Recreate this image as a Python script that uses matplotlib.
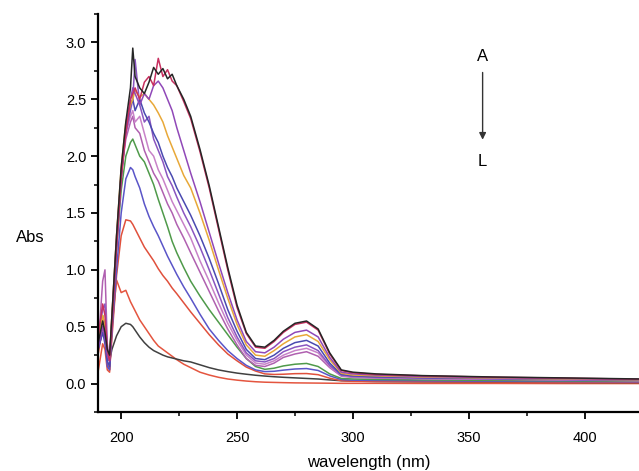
import matplotlib

matplotlib.use("Agg")
import matplotlib.pyplot as plt
from matplotlib.ticker import FormatStrFormatter, MultipleLocator

# wavelength grid (nm) shared by every spectrum
wavelength = [190, 192, 193, 194, 195, 196, 198, 200, 202, 204, 205, 206, 208, 210,
              212, 214, 216, 218, 220, 222, 224, 227, 230, 234, 238, 242, 246, 250,
              254, 258, 262, 266, 270, 275, 280, 285, 290, 295, 300, 310, 330, 360,
              390, 425]

abs_a = [0.35, 0.55, 0.45, 0.30, 0.25, 0.60, 1.30, 1.90, 2.30, 2.60, 2.95, 2.70, 2.60, 2.55,
         2.65, 2.78, 2.72, 2.77, 2.68, 2.72, 2.62, 2.50, 2.35, 2.06, 1.74, 1.38, 1.02, 0.69,
         0.45, 0.33, 0.32, 0.38, 0.46, 0.53, 0.55, 0.48, 0.27, 0.12, 0.10, 0.085, 0.07, 0.058,
         0.05, 0.04]
abs_b = [0.40, 0.70, 0.60, 0.30, 0.20, 0.50, 1.20, 1.80, 2.20, 2.50, 2.55, 2.60, 2.50, 2.65,
         2.70, 2.62, 2.86, 2.70, 2.76, 2.66, 2.62, 2.48, 2.33, 2.04, 1.72, 1.36, 1.00, 0.67,
         0.44, 0.32, 0.31, 0.37, 0.45, 0.52, 0.54, 0.47, 0.26, 0.115, 0.095, 0.08, 0.068, 0.056,
         0.048, 0.038]
abs_c = [0.30, 0.50, 0.40, 0.25, 0.20, 0.55, 1.25, 1.85, 2.25, 2.50, 2.60, 2.55, 2.45, 2.55,
         2.50, 2.62, 2.66, 2.60, 2.50, 2.40, 2.25, 2.05, 1.85, 1.60, 1.33, 1.06, 0.80, 0.56,
         0.37, 0.28, 0.27, 0.32, 0.39, 0.45, 0.47, 0.41, 0.23, 0.10, 0.085, 0.075, 0.062, 0.052,
         0.044, 0.035]
abs_d = [0.35, 0.60, 0.50, 0.28, 0.22, 0.60, 1.30, 1.90, 2.30, 2.45, 2.50, 2.58, 2.52, 2.55,
         2.50, 2.45, 2.38, 2.30, 2.18, 2.08, 1.98, 1.83, 1.72, 1.50, 1.26, 1.00, 0.75, 0.52,
         0.34, 0.25, 0.24, 0.29, 0.35, 0.41, 0.43, 0.37, 0.21, 0.09, 0.075, 0.068, 0.057, 0.048,
         0.04, 0.032]
abs_e = [0.30, 0.45, 0.35, 0.20, 0.15, 0.50, 1.20, 1.80, 2.25, 2.45, 2.50, 2.40, 2.50, 2.38,
         2.30, 2.20, 2.12, 2.00, 1.90, 1.82, 1.72, 1.60, 1.48, 1.30, 1.10, 0.88, 0.65, 0.46,
         0.30, 0.22, 0.21, 0.25, 0.31, 0.36, 0.38, 0.33, 0.18, 0.08, 0.068, 0.06, 0.052, 0.045,
         0.038, 0.03]
abs_f = [0.40, 0.65, 0.70, 0.30, 0.20, 0.55, 1.25, 1.85, 2.20, 2.40, 2.50, 2.85, 2.45, 2.30,
         2.35, 2.15, 2.05, 1.95, 1.82, 1.74, 1.64, 1.50, 1.38, 1.20, 1.00, 0.79, 0.58, 0.41,
         0.27, 0.20, 0.19, 0.22, 0.28, 0.32, 0.34, 0.29, 0.16, 0.075, 0.062, 0.055, 0.048, 0.042,
         0.035, 0.028]
abs_g = [0.35, 0.50, 0.45, 0.25, 0.20, 0.50, 1.20, 1.80, 2.20, 2.35, 2.40, 2.30, 2.35, 2.20,
         2.05, 2.00, 1.88, 1.80, 1.70, 1.60, 1.52, 1.40, 1.28, 1.08, 0.90, 0.71, 0.53, 0.38,
         0.25, 0.18, 0.17, 0.20, 0.25, 0.29, 0.31, 0.27, 0.15, 0.07, 0.058, 0.052, 0.045, 0.04,
         0.033, 0.026]
abs_h = [0.30, 0.90, 1.00, 0.35, 0.20, 0.60, 1.30, 1.85, 2.15, 2.30, 2.35, 2.25, 2.20, 2.05,
         1.95, 1.85, 1.78, 1.68, 1.58, 1.50, 1.40, 1.28, 1.15, 0.98, 0.81, 0.64, 0.48, 0.34,
         0.22, 0.16, 0.15, 0.18, 0.23, 0.26, 0.28, 0.24, 0.14, 0.065, 0.054, 0.048, 0.042, 0.037,
         0.031, 0.024]
abs_i = [0.40, 0.60, 0.50, 0.30, 0.25, 0.55, 1.20, 1.70, 2.00, 2.12, 2.15, 2.10, 2.00, 1.95,
         1.85, 1.75, 1.62, 1.50, 1.38, 1.25, 1.15, 1.02, 0.90, 0.77, 0.65, 0.54, 0.43, 0.32,
         0.22, 0.15, 0.125, 0.135, 0.155, 0.17, 0.177, 0.15, 0.085, 0.045, 0.04, 0.036, 0.032,
         0.028, 0.024, 0.02]
abs_j = [0.30, 0.45, 0.40, 0.15, 0.12, 0.45, 1.00, 1.50, 1.80, 1.90, 1.88, 1.82, 1.72, 1.58,
         1.47, 1.38, 1.30, 1.21, 1.12, 1.04, 0.96, 0.85, 0.75, 0.61, 0.48, 0.38, 0.29, 0.22,
         0.16, 0.12, 0.105, 0.108, 0.118, 0.128, 0.132, 0.115, 0.068, 0.035, 0.03, 0.027, 0.024,
         0.021, 0.018, 0.015]
abs_k = [0.25, 0.50, 0.45, 0.18, 0.12, 0.40, 0.95, 1.30, 1.44, 1.43, 1.40, 1.36, 1.28, 1.20,
         1.14, 1.08, 1.01, 0.95, 0.90, 0.84, 0.79, 0.71, 0.63, 0.53, 0.43, 0.34, 0.26, 0.20,
         0.145, 0.11, 0.085, 0.08, 0.082, 0.087, 0.088, 0.078, 0.047, 0.025, 0.02, 0.018, 0.016,
         0.014, 0.012, 0.01]
abs_l = [0.45, 0.55, 0.45, 0.22, 0.20, 0.30, 0.42, 0.50, 0.53, 0.52, 0.50, 0.47, 0.41, 0.36,
         0.32, 0.29, 0.27, 0.25, 0.235, 0.225, 0.215, 0.20, 0.19, 0.165, 0.14, 0.12, 0.105,
         0.092, 0.082, 0.073, 0.066, 0.06, 0.055, 0.05, 0.045, 0.04, 0.032, 0.025, 0.022, 0.018,
         0.015, 0.012, 0.01, 0.008]
abs_m = [0.10, 0.35, 0.30, 0.12, 0.10, 0.50, 0.91, 0.80, 0.82, 0.72, 0.68, 0.64, 0.56, 0.50,
         0.44, 0.38, 0.33, 0.30, 0.27, 0.24, 0.21, 0.17, 0.14, 0.10, 0.075, 0.055, 0.04, 0.03,
         0.022, 0.016, 0.012, 0.01, 0.008, 0.006, 0.005, 0.004, 0.003, 0.002, 0.002, 0.002,
         0.001, 0.001, 0.0, 0.0]

spectra = [abs_m, abs_l, abs_k, abs_j, abs_i, abs_h, abs_g, abs_f, abs_e, abs_d, abs_c,
           abs_b, abs_a]
colors = ["#e4553f", "#404040", "#e0503c", "#5a55c8", "#4f9a4a", "#b060b0", "#c882c8",
          "#8a55c0", "#4a4ab0", "#e8a838", "#9048b8", "#c83060", "#262626"]


def main() -> int:
    plt.rcParams["font.family"] = ["Liberation Sans", "DejaVu Sans"]
    fig = plt.figure(figsize=(6.39, 4.71), dpi=100)
    ax = fig.add_axes([0.1534, 0.1253, 0.8466, 0.845])

    for values, color in zip(spectra, colors):
        ax.plot(wavelength, values, color=color, linewidth=1.1)

    ax.set_xlim(190, 423.5)
    ax.set_ylim(-0.25, 3.25)
    ax.xaxis.set_major_locator(MultipleLocator(50))
    ax.xaxis.set_minor_locator(MultipleLocator(25))
    ax.yaxis.set_major_locator(MultipleLocator(0.5))
    ax.yaxis.set_minor_locator(MultipleLocator(0.25))
    ax.yaxis.set_major_formatter(FormatStrFormatter("%.1f"))

    for side in ["top", "right"]:
        ax.spines[side].set_visible(False)
    for side in ["left", "bottom"]:
        ax.spines[side].set_linewidth(1.6)
    ax.tick_params(which="major", direction="out", length=5, width=1.3, labelsize=10.5)
    ax.tick_params(which="minor", direction="out", length=3, width=1.1)
    ax.tick_params(axis="x", pad=9)

    ax.set_xlabel("wavelength (nm)", fontsize=12, labelpad=7)
    ax.set_ylabel("Abs", fontsize=12, rotation=0)
    ax.yaxis.set_label_coords(-0.125, 0.42)

    ax.text(356, 2.88, "A", fontsize=12, ha="center", va="center")
    ax.text(356, 1.95, "L", fontsize=12, ha="center", va="center")
    ax.annotate("", xy=(356, 2.12), xytext=(356, 2.76),
                arrowprops=dict(arrowstyle="-|>", color="#333333", lw=1.0,
                                mutation_scale=10))

    fig.savefig("out.png", dpi=100)
    plt.close(fig)
    return 0


if __name__ == "__main__":
    raise SystemExit(main())
